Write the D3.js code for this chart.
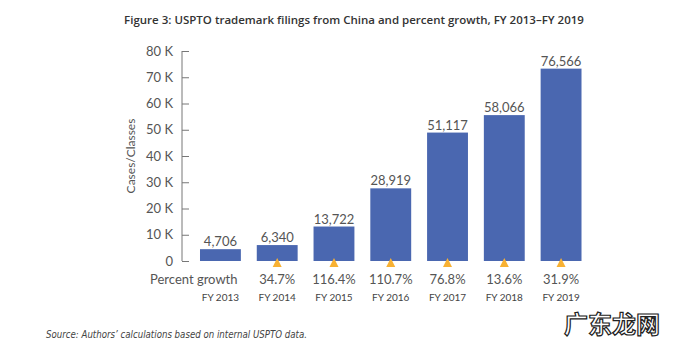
<!DOCTYPE html>
<html>
<head>
<meta charset="utf-8">
<script src="https://cdn.jsdelivr.net/npm/d3@7"></script>
<style>
  body { margin: 0; background: #fff; }
  svg { display: block; }
</style>
</head>
<body>
<svg id="chart"></svg>
<script>
// datos
const years = ["FY 2013", "FY 2014", "FY 2015", "FY 2016", "FY 2017", "FY 2018", "FY 2019"];
const filings = [4706, 6340, 13722, 28919, 51117, 58066, 76566];
const growth = [null, "34.7%", "116.4%", "110.7%", "76.8%", "13.6%", "31.9%"];
const yTicks = [0, 10000, 20000, 30000, 40000, 50000, 60000, 70000, 80000];

const width = 698;
const height = 350;
const font = "Lato, 'Open Sans', sans-serif";

const svg = d3.select("#chart")
  .attr("width", width)
  .attr("height", height)
  .style("font-family", font);

// escalas
const x = d3.scaleBand()
  .domain(years)
  .range([182, 599.5])
  .paddingInner(0.28)
  .paddingOuter(0.317);

// eje (la figura original dibuja las barras algo más bajas que las marcas del eje)
const yAxisScale = d3.scaleLinear()
  .domain([0, 80000])
  .range([261, 51]);

const y = d3.scaleLinear()
  .domain([0, 80000])
  .range([261, 60]);

// titulo
svg.append("text")
  .attr("x", 354)
  .attr("y", 24)
  .attr("text-anchor", "middle")
  .attr("font-size", "11.5px")
  .attr("font-weight", 600)
  .attr("font-family", "'Open Sans', sans-serif")
  .attr("fill", "#333")
  .text("Figure 3: USPTO trademark filings from China and percent growth, FY 2013\u2013FY 2019");

// eje Y
const yAxis = d3.axisRight(yAxisScale)
  .tickValues(yTicks)
  .tickSize(7)
  .tickFormat(d => d === 0 ? "0" : (d / 1000) + " K");

const gy = svg.append("g")
  .attr("transform", "translate(182,0)")
  .call(yAxis);
gy.select(".domain").attr("stroke", "#777").attr("d", `M0,${yAxisScale(80000)}V${yAxisScale(0)}`);
gy.selectAll(".tick line").attr("stroke", "#777");
gy.selectAll(".tick text")
  .attr("x", -9)
  .attr("text-anchor", "end")
  .attr("font-size", "13px")
  .attr("font-family", font)
  .attr("fill", "#555");

svg.append("text")
  .attr("transform", `translate(135,${(yAxisScale(0) + yAxisScale(80000)) / 2}) rotate(-90)`)
  .attr("text-anchor", "middle")
  .attr("font-size", "12px")
  .attr("fill", "#555")
  .text("Cases/Classes");

// barras
svg.append("g").selectAll("rect")
  .data(filings)
  .join("rect")
  .attr("x", (d, i) => x(years[i]))
  .attr("y", d => y(d))
  .attr("width", x.bandwidth())
  .attr("height", d => y(0) - y(d))
  .attr("fill", "#4a67b0");

svg.append("g").selectAll("text")
  .data(filings)
  .join("text")
  .attr("x", (d, i) => x(years[i]) + x.bandwidth() / 2)
  .attr("y", d => y(d) - 3)
  .attr("text-anchor", "middle")
  .attr("font-size", "13px")
  .attr("fill", "#555")
  .text(d => d3.format(",")(d));

// triangulos de crecimiento
svg.append("g").selectAll("path")
  .data(growth.filter(g => g !== null).map((g, i) => years[i + 1]))
  .join("path")
  .attr("transform", d => `translate(${x(d) + x.bandwidth() / 2},${y(0) - 3})`)
  .attr("d", "M0,0L4.5,9L-4.5,9Z")
  .attr("fill", "#f8b133");

svg.append("text")
  .attr("x", 150)
  .attr("y", 284)
  .attr("font-size", "13px")
  .attr("fill", "#555")
  .text("Percent growth");

svg.append("g").selectAll("text")
  .data(growth)
  .join("text")
  .attr("x", (d, i) => x(years[i]) + x.bandwidth() / 2)
  .attr("y", 284)
  .attr("text-anchor", "middle")
  .attr("font-size", "13px")
  .attr("fill", "#555")
  .text(d => d === null ? "" : d);

// etiquetas de años
svg.append("g").selectAll("text")
  .data(years)
  .join("text")
  .attr("x", d => x(d) + x.bandwidth() / 2)
  .attr("y", 301)
  .attr("text-anchor", "middle")
  .attr("font-size", "10px")
  .attr("fill", "#444")
  .text(d => d);

// fuente
svg.append("text")
  .attr("x", 46)
  .attr("y", 338)
  .attr("font-size", "9.6px")
  .attr("font-style", "italic")
  .attr("font-family", "'Liberation Sans Narrow', 'DejaVu Sans Condensed', sans-serif")
  .attr("fill", "#444")
  .text("Source: Authors\u2019 calculations based on internal USPTO data.");

// marca de agua
svg.append("text")
  .attr("x", 612)
  .attr("y", 333)
  .attr("text-anchor", "middle")
  .attr("font-size", "24px")
  .attr("font-weight", 700)
  .attr("font-family", "'Noto Sans CJK SC', sans-serif")
  .attr("fill", "#fff")
  .attr("stroke", "#222")
  .attr("stroke-width", 1.2)
  .text("广东龙网");
</script>
</body>
</html>
